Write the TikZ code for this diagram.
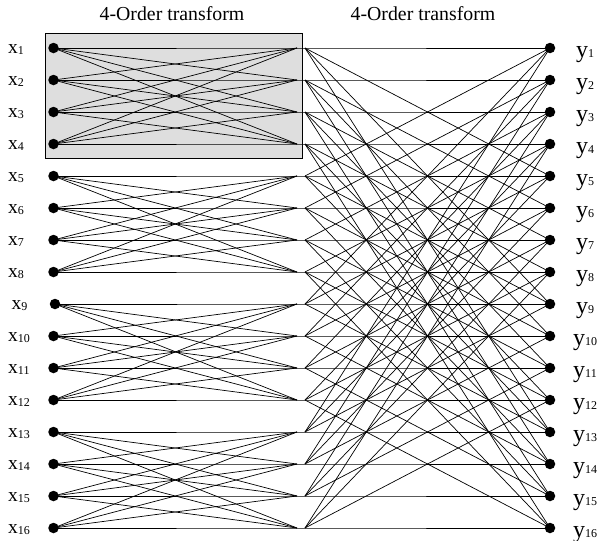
\documentclass[tikz,border=0pt]{standalone}
\usepackage{fontspec}
\setmainfont{Liberation Serif}
\newcommand{\xlbl}[1]{{\fontsize{19.5}{19.5}\selectfont x}{\fontsize{12}{12}\selectfont\raisebox{-1.5pt}{#1}}}
\newcommand{\ylbl}[1]{{\fontsize{24}{24}\selectfont y}{\fontsize{12}{12}\selectfont\raisebox{-0.5pt}{#1}}}
\begin{document}
\begin{tikzpicture}[x=1pt,y=-1pt,
  ln/.style={line width=0.7pt,black},
  dotnode/.style={circle,fill=black,inner sep=0pt,minimum size=10.5pt},
  ttl/.style={font=\fontsize{19.8}{19.8}\selectfont,anchor=base,inner sep=0pt}]
\useasboundingbox (0,0) rectangle (598,541);
\node[draw=black,line width=1.2pt,fill=black!13,minimum width=257pt,minimum height=125pt,anchor=north west,inner sep=0pt] (box) at (45,33) {};
\node[ttl] (t1) at (172,20.5) {4-Order transform};
\node[ttl] (t2) at (423,20.5) {4-Order transform};
\foreach \i in {1,...,16} {
  \pgfmathsetmacro\yy{48+32*(\i-1)}
  \pgfmathsetmacro\xd{ifthenelse(\i==9,55,53.5)}
  \pgfmathsetmacro\xl{ifthenelse(\i==9,11.5,8)}
  \coordinate (x\i) at (\xd,\yy);
  \coordinate (m\i) at (297,\yy);
  \coordinate (n\i) at (305,\yy);
  \coordinate (y\i) at (550,\yy);
  \node[anchor=base west,inner sep=0pt] (lx\i) at (\xl,\yy+5) {\xlbl{\i}};
  \node[anchor=base,inner sep=0pt] (ly\i) at (585,\yy+9) {\ylbl{\i}};
  \draw[ln] (x\i) -- (m\i) -- (n\i) -- (y\i);
}
% stage 1: full connections inside each group of four
\foreach \g in {0,...,3}
  \foreach \i in {1,...,4}
    \foreach \j in {1,...,4} {
      \pgfmathtruncatemacro\a{4*\g+\i}
      \pgfmathtruncatemacro\b{4*\g+\j}
      \ifnum\i=\j\else \draw[ln] (x\a) -- (m\b); \fi
    }
% stage 2: stride-4 full connections
\foreach \k in {1,...,4}
  \foreach \p in {0,...,3}
    \foreach \q in {0,...,3} {
      \pgfmathtruncatemacro\a{4*\p+\k}
      \pgfmathtruncatemacro\b{4*\q+\k}
      \ifnum\p=\q\else \draw[ln] (n\a) -- (y\b); \fi
    }
\foreach \i in {1,...,16} {
  \node[dotnode] (dx\i) at (x\i) {};
  \node[dotnode] (dy\i) at (y\i) {};
}
\end{tikzpicture}
\end{document}
